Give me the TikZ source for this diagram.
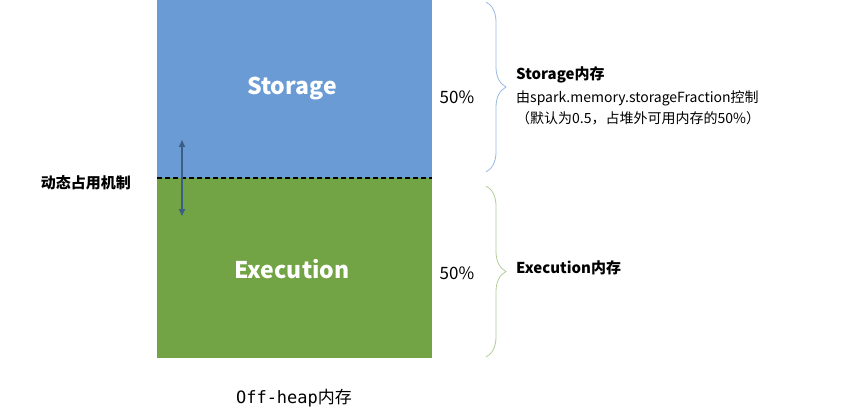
\documentclass[tikz,border=0pt]{standalone}
\usepackage{fontspec}
\setmainfont{Noto Sans CJK SC}
\setmonofont{DejaVu Sans Mono}
\usetikzlibrary{decorations.pathreplacing,arrows.meta}
\definecolor{stor}{HTML}{6A9BD4}
\definecolor{exec}{HTML}{72A344}
\definecolor{darrow}{HTML}{3A5E85}
\tikzset{lbl/.style={inner sep=0pt,anchor=west,font=\fontsize{14}{16}\selectfont},
bracedec/.style={decorate,decoration={brace,amplitude=20pt,aspect=0.5},line width=0.8pt}}
\begin{document}
\begin{tikzpicture}[x=1pt,y=-1pt]
\useasboundingbox (0,0) rectangle (862,417);
\fill[stor] (157,0) rectangle (432,178);
\fill[exec] (157,178) rectangle (432,358);
\node (st) at (292,89) {\fontsize{23}{26}\selectfont\bfseries\color{white}Storage};
\node (ex) at (292,269) {\fontsize{23}{26}\selectfont\bfseries\color{white}Execution};
\draw[dashed,line width=1.5pt,dash pattern=on 5pt off 3pt] (157,178) -- (432,178);
\coordinate (a1) at (182,140); \coordinate (a2) at (182,216);
\draw[darrow,line width=1.5pt,{Triangle[length=7pt,width=6pt]}-{Triangle[length=7pt,width=6pt]}] (a1) -- (a2);
\node[anchor=east,inner sep=0pt,font=\fontsize{15}{17}\selectfont\bfseries] (dy) at (131,183) {动态占用机制};
\node (p1) at (457,97) {\fontsize{17}{19}\selectfont 50\%};
\node (p2) at (457,273) {\fontsize{17}{19}\selectfont 50\%};
\draw[bracedec,stor!70] (486,2) -- (486,172);
\draw[bracedec,exec!55] (486,186) -- (486,357);
\node[lbl,font=\fontsize{15}{17}\selectfont\bfseries] (sl) at (516,75) {Storage内存};
\node[lbl] (sl2) at (516,98) {由spark.memory.storageFraction控制};
\node[lbl] (sl3) at (516,118) {（默认为0.5，占堆外可用内存的50\%）};
\node[lbl,font=\fontsize{15}{17}\selectfont\bfseries] (el) at (516,268) {Execution内存};
\node (off) at (294,398) {\fontsize{17}{19}\selectfont\ttfamily Off-heap\rmfamily 内存};
\end{tikzpicture}
\end{document}
